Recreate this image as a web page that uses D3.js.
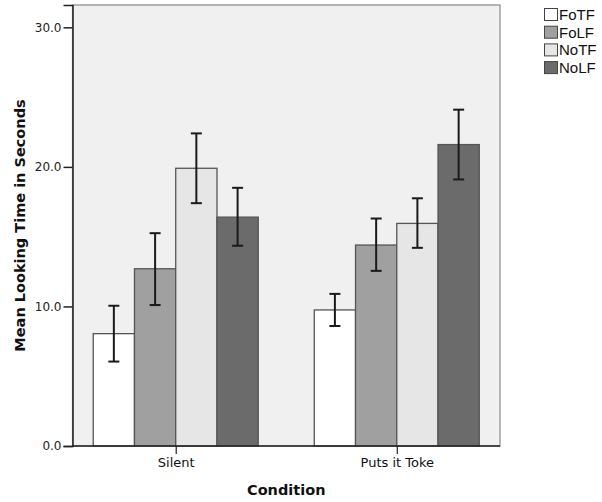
<!DOCTYPE html>
<html><head><meta charset="utf-8">
<script src="https://cdn.jsdelivr.net/npm/d3@7"></script>
<style>body{margin:0;background:#fff}svg{display:block}</style>
</head><body>
<script>
const conditions = ["Silent", "Puts it Toke"];
const groups = ["FoTF", "FoLF", "NoTF", "NoLF"];
const groupColors = ["#ffffff", "#a0a0a0", "#e6e6e6", "#6b6b6b"];
const means = {
  "FoTF": [8.05, 9.75],
  "FoLF": [12.7, 14.4],
  "NoTF": [19.9, 15.95],
  "NoLF": [16.4, 21.6]
};
const errLow = {
  "FoTF": [6.05, 8.6],
  "FoLF": [10.1, 12.55],
  "NoTF": [17.4, 14.2],
  "NoLF": [14.35, 19.1]
};
const errHigh = {
  "FoTF": [10.05, 10.9],
  "FoLF": [15.25, 16.3],
  "NoTF": [22.4, 17.75],
  "NoLF": [18.5, 24.1]
};
const yTicks = [0, 10, 20, 30];

const W = 602, H = 502;
const L = 72.5, R = 500, T = 5, B = 446;
const svg = d3.select("body").append("svg").attr("width", W).attr("height", H);

const y = d3.scaleLinear().domain([0, 31.6]).range([B, T]);
const x = d3.scalePoint().domain(conditions).range([L, R]).padding(0.467);
const xi = d3.scaleBand().domain(groups).range([-82.5, 82.5]);

svg.append("rect").attr("x", L).attr("y", T).attr("width", R - L).attr("height", B - T)
  .attr("fill", "#f0f0f0").attr("stroke", "#8a8a8a").attr("stroke-width", 1.2);

const data = [];
conditions.forEach((c, ci) => groups.forEach((g, gi) => data.push({
  c, g, gi, v: means[g][ci], lo: errLow[g][ci], hi: errHigh[g][ci]
})));

svg.append("g").selectAll("rect").data(data).join("rect")
  .attr("x", d => x(d.c) + xi(d.g))
  .attr("y", d => y(d.v))
  .attr("width", xi.bandwidth())
  .attr("height", d => y(0) - y(d.v))
  .attr("fill", d => groupColors[d.gi])
  .attr("stroke", "#555").attr("stroke-width", 1.3);

const eb = svg.append("g").attr("stroke", "#1a1a1a").attr("stroke-width", 2);
data.forEach(d => {
  const cx = x(d.c) + xi(d.g) + xi.bandwidth() / 2;
  eb.append("line").attr("x1", cx).attr("x2", cx).attr("y1", y(d.lo)).attr("y2", y(d.hi));
  eb.append("line").attr("x1", cx - 5.5).attr("x2", cx + 5.5).attr("y1", y(d.lo)).attr("y2", y(d.lo));
  eb.append("line").attr("x1", cx - 5.5).attr("x2", cx + 5.5).attr("y1", y(d.hi)).attr("y2", y(d.hi));
});

// y axis
const ya = svg.append("g").attr("transform", `translate(${L},0)`)
  .call(d3.axisLeft(y).tickValues(yTicks).tickFormat(d3.format(".1f")).tickSize(9).tickPadding(2));
ya.select(".domain").attr("stroke", "#222").attr("stroke-width", 1.5);
ya.selectAll(".tick line").attr("stroke", "#222").attr("stroke-width", 1.5);
ya.selectAll("text").attr("font-family", "DejaVu Sans").attr("font-size", 12).attr("fill", "#222");

// x axis
const xa = svg.append("g").attr("transform", `translate(0,${B})`)
  .call(d3.axisBottom(x).tickSize(8).tickPadding(4));
xa.select(".domain").attr("d", `M${L},0H${R}`).attr("stroke", "#222").attr("stroke-width", 1.5);
xa.selectAll(".tick line").attr("stroke", "#222").attr("stroke-width", 1.2);
xa.selectAll("text").attr("font-family", "DejaVu Sans").attr("font-size", 13).attr("fill", "#111");

// titles
svg.append("text").attr("x", (L + R) / 2).attr("y", 495).attr("text-anchor", "middle")
  .attr("font-family", "DejaVu Sans").attr("font-weight", "bold").attr("font-size", 14.5)
  .attr("fill", "#111").text("Condition");
svg.append("text").attr("transform", `translate(25,${(T + B) / 2}) rotate(-90)`)
  .attr("text-anchor", "middle")
  .attr("font-family", "DejaVu Sans").attr("font-weight", "bold").attr("font-size", 14.5)
  .attr("fill", "#111").text("Mean Looking Time in Seconds");

// legend
const lg = svg.append("g").attr("transform", "translate(544,8)");
groups.forEach((g, i) => {
  const row = lg.append("g").attr("transform", `translate(0,${i * 17.7})`);
  row.append("rect").attr("x", 0.5).attr("y", 0.5).attr("width", 13).attr("height", 12)
    .attr("fill", groupColors[i]).attr("stroke", "#444").attr("stroke-width", 1);
  row.append("text").attr("x", 15).attr("y", 12).attr("font-family", "Liberation Sans")
    .attr("font-size", 15).attr("fill", "#111").text(g);
});
</script>
</body></html>
